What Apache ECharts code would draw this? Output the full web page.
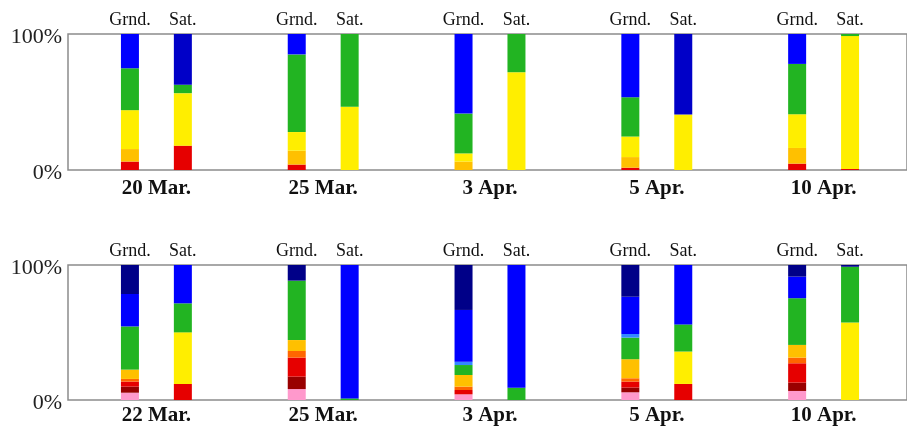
<!DOCTYPE html>
<html>
<head>
<meta charset="utf-8">
<title>Ground vs satellite class fractions</title>
<script src="https://cdn.jsdelivr.net/npm/echarts@6/dist/echarts.min.js"></script>
<style>
  html, body { margin: 0; padding: 0; background: #fff; }
  #chart { width: 907px; height: 428px; }
</style>
</head>
<body>
<div id="chart"></div>
<script>
// Class order, bottom of each bar to top
const classColors = ['#ff99cc', '#990000', '#e60000', '#ff6600', '#ffc000', '#ffee00',
                     '#22b422', '#3388ff', '#0000ff', '#0000c8', '#000088'];

const topDates = ['20 Mar.', '25 Mar.', '3 Apr.', '5 Apr.', '10 Apr.'];
const bottomDates = ['22 Mar.', '25 Mar.', '3 Apr.', '5 Apr.', '10 Apr.'];
const sourceLabels = ['Grnd.', 'Sat.'];
const yTickLabels = ['0%', '100%'];

// Percent per class (bottom -> top), one row per date
const topGrnd = [
  [0, 0, 6.2, 0, 9.2, 28.6, 30.8, 0, 25.2, 0, 0],
  [0, 0, 4.0, 0, 10.2, 13.7, 57.1, 0, 15.0, 0, 0],
  [0, 0, 0, 0, 6.2, 6.0, 29.3, 0, 58.5, 0, 0],
  [0, 0, 1.7, 0, 7.8, 15.1, 28.9, 0, 46.5, 0, 0],
  [0, 0, 4.7, 0, 11.5, 24.8, 37.0, 0, 22.0, 0, 0]
];
const topSat = [
  [0, 0, 17.9, 0, 0, 38.6, 6.2, 0, 0, 37.3, 0],
  [0, 0, 0, 0, 0, 46.5, 53.5, 0, 0, 0, 0],
  [0, 0, 0, 0, 0, 71.9, 28.1, 0, 0, 0, 0],
  [0, 0, 0, 0, 0, 40.8, 0, 0, 0, 59.2, 0],
  [0, 0, 0.7, 0, 0, 97.8, 1.5, 0, 0, 0, 0]
];
const bottomGrnd = [
  [5.4, 4.5, 3.7, 2.0, 6.9, 0, 32.0, 0, 24.0, 0, 21.5],
  [8.1, 9.2, 14.1, 4.9, 8.1, 0, 44.0, 0, 0, 0, 11.6],
  [4.2, 0, 3.2, 2.5, 8.6, 0, 7.4, 2.5, 38.3, 0, 33.3],
  [5.7, 3.5, 4.4, 2.5, 14.1, 0, 16.0, 2.7, 27.6, 0, 23.5],
  [6.7, 6.2, 14.3, 4.2, 9.4, 0, 34.6, 0, 16.0, 0, 8.6]
];
const bottomSat = [
  [0, 0, 11.9, 0, 0, 38.2, 21.5, 0, 28.4, 0, 0],
  [0, 0, 0, 0, 0, 0, 1.2, 0, 98.8, 0, 0],
  [0, 0, 0, 0, 0, 0, 9.1, 0, 90.9, 0, 0],
  [0, 0, 11.9, 0, 0, 24.0, 20.1, 0, 44.0, 0, 0],
  [0, 0, 0, 0, 0, 57.5, 41.2, 0, 0, 0, 1.3]
];

const serif = '"Liberation Serif", "DejaVu Serif", serif';
const frameColor = '#8c8c8c';
const panels = [{ top: 34, height: 136, dateMargin: 8 }, { top: 265, height: 135, dateMargin: 5 }];

// Grids 0,1: bar plotting areas. Grids 2,3: framed boxes with the % axis.
const grids = [
  ...panels.map(p => ({ left: 73, right: -1, top: p.top, height: p.height, show: false })),
  ...panels.map(p => ({
    left: 68, right: -1, top: p.top, height: p.height,
    show: true, borderColor: frameColor, borderWidth: 1.5, backgroundColor: 'transparent'
  }))
];

function makeXAxis(gridIndex, dates, margin) {
  return {
    type: 'category', gridIndex: gridIndex, data: dates,
    axisLine: { show: false }, axisTick: { show: false },
    axisLabel: { fontFamily: serif, fontWeight: 'bold', fontSize: 21, color: '#111', margin: margin }
  };
}

function makeBarYAxis(gridIndex) {
  return { type: 'value', gridIndex: gridIndex, min: 0, max: 100, show: false };
}

function makeFrameYAxis(gridIndex) {
  return {
    type: 'value', gridIndex: gridIndex, min: 0, max: 100, interval: 100,
    axisLine: { show: false }, axisTick: { show: false }, splitLine: { show: false },
    axisLabel: {
      fontFamily: serif, fontSize: 22, color: '#222', margin: 6,
      formatter: v => '{p|' + (v === 0 ? yTickLabels[0] : yTickLabels[1]) + '}',
      rich: { p: { fontFamily: serif, fontSize: 22, color: '#222', padding: [7, 0, 0, 0] } }
    }
  };
}

function makeFrameXAxis(gridIndex) {
  return { type: 'value', gridIndex: gridIndex, min: 0, max: 1, show: false };
}

// One stacked series per class; the last class of each stack carries the source label on top
function stackSeries(panelIndex, rows, stackName, labelText) {
  return classColors.map((color, k) => ({
    type: 'bar',
    xAxisIndex: panelIndex, yAxisIndex: panelIndex,
    stack: stackName,
    barWidth: 18,
    barGap: '194%',
    itemStyle: { color: color },
    emphasis: { disabled: true },
    silent: true,
    label: k === classColors.length - 1 ? {
      show: true, position: 'top', distance: 5,
      fontFamily: serif, fontSize: 18, color: '#111',
      formatter: () => labelText
    } : { show: false },
    data: rows.map(r => r[k])
  }));
}

const chart = echarts.init(document.getElementById('chart'), null, { renderer: 'canvas' });
chart.setOption({
  animation: false,
  backgroundColor: '#fff',
  grid: grids,
  xAxis: [
    makeXAxis(0, topDates, panels[0].dateMargin),
    makeXAxis(1, bottomDates, panels[1].dateMargin),
    makeFrameXAxis(2),
    makeFrameXAxis(3)
  ],
  yAxis: [makeBarYAxis(0), makeBarYAxis(1), makeFrameYAxis(2), makeFrameYAxis(3)],
  series: [
    ...stackSeries(0, topGrnd, 'topG', sourceLabels[0]),
    ...stackSeries(0, topSat, 'topS', sourceLabels[1]),
    ...stackSeries(1, bottomGrnd, 'botG', sourceLabels[0]),
    ...stackSeries(1, bottomSat, 'botS', sourceLabels[1])
  ]
});
</script>
</body>
</html>
